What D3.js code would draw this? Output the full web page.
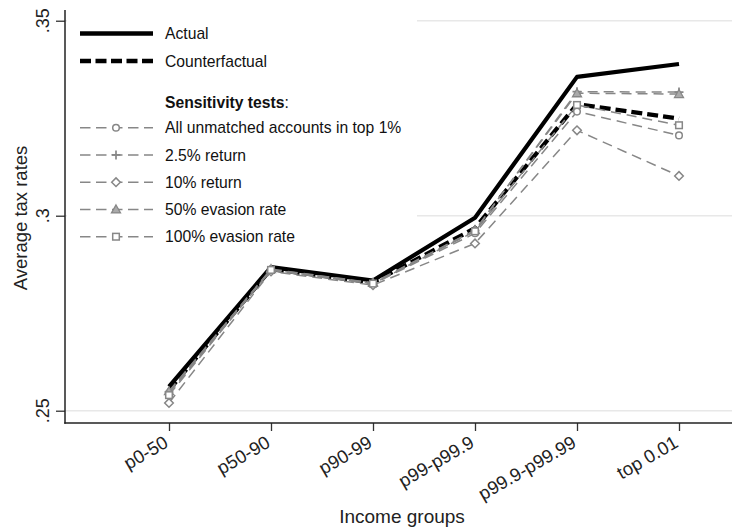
<!DOCTYPE html>
<html><head><meta charset="utf-8">
<script src="https://cdn.jsdelivr.net/npm/d3@7"></script>
<style>body{margin:0;background:#fff}svg{display:block;font-family:"Liberation Sans",Arial,sans-serif}</style>
</head><body><svg id="c" width="732" height="530"></svg>
<script>
const categories = ["p0-50","p50-90","p90-99","p99-p99.9","p99.9-p99.99","top 0.01"];
const yTicks = [0.25, 0.30, 0.35];
const yTickLabels = [".25", ".3", ".35"];
const actual         = [0.2562, 0.2868, 0.2834, 0.2995, 0.3356, 0.3389];
const counterfactual = [0.2553, 0.2863, 0.2829, 0.2968, 0.3286, 0.3249];
const allUnmatched   = [0.2545, 0.2860, 0.2825, 0.2955, 0.3267, 0.3206];
const return25       = [0.2548, 0.2862, 0.2827, 0.2962, 0.3318, 0.3317];
const return10       = [0.2520, 0.2857, 0.2822, 0.2929, 0.3219, 0.3102];
const evasion50      = [0.2550, 0.2863, 0.2828, 0.2963, 0.3314, 0.3312];
const evasion100     = [0.2540, 0.2861, 0.2826, 0.2960, 0.3284, 0.3232];
const sensNames = ["All unmatched accounts in top 1%","2.5% return","10% return","50% evasion rate","100% evasion rate"];
const sensMarkers = ["circle","plus","diamond","triangle","square"];

const svg = d3.select("#c");
const x = d3.scalePoint().domain(categories).range([169, 679]);
const y = d3.scaleLinear().domain([0.24685, 0.35275]).range([423, 10]);
const axisX0 = 65, axisY0 = 423, right = 732;
const gray = "#878787";

// gridlines
svg.append("g").selectAll("line").data(yTicks).join("line")
  .attr("x1", axisX0).attr("x2", right)
  .attr("y1", d => y(d)).attr("y2", d => y(d))
  .attr("stroke", "#e8e8e8").attr("stroke-width", 1.5);

// y axis
const ya = svg.append("g").attr("transform", `translate(${axisX0},0)`)
  .call(d3.axisLeft(y).tickValues(yTicks).tickSize(9).tickFormat(""));
ya.select(".domain").remove();
ya.selectAll(".tick line").attr("stroke", "#333").attr("stroke-width", 1.3);
svg.append("line").attr("x1", axisX0).attr("x2", axisX0).attr("y1", y.range()[1]).attr("y2", axisY0 + 0.7)
  .attr("stroke", "#222").attr("stroke-width", 1.5);
svg.append("g").selectAll("text").data(yTicks).join("text")
  .attr("transform", (d) => `translate(48.5,${y(d)}) rotate(-90)`)
  .attr("text-anchor", "middle").attr("font-size", 18).attr("fill", "#222")
  .text((d, i) => yTickLabels[i]);
svg.append("text").attr("transform", "translate(27,218) rotate(-90)")
  .attr("text-anchor", "middle").attr("font-size", 18.5).attr("fill", "#222").text("Average tax rates");

// x axis
const xa = svg.append("g").attr("transform", `translate(0,${axisY0})`)
  .call(d3.axisBottom(x).tickSize(8).tickFormat(""));
xa.select(".domain").remove();
xa.selectAll(".tick line").attr("stroke", "#333").attr("stroke-width", 1.3);
svg.append("line").attr("x1", axisX0 - 0.7).attr("x2", right).attr("y1", axisY0).attr("y2", axisY0)
  .attr("stroke", "#222").attr("stroke-width", 1.5);
svg.append("g").selectAll("text").data(categories).join("text")
  .attr("transform", d => `translate(${x(d) - 6},${axisY0 + 12}) rotate(-30)`)
  .attr("text-anchor", "end").attr("dy", "0.7em").attr("font-size", 18.5).attr("fill", "#222")
  .text(d => d);
svg.append("text").attr("x", 402).attr("y", 523).attr("text-anchor", "middle")
  .attr("font-size", 19).attr("fill", "#222").text("Income groups");

// legend background (covers gridlines)
svg.append("rect").attr("x", 67).attr("y", 11).attr("width", 350).attr("height", 240).attr("fill", "#fff");

const line = d3.line().x((d, i) => x(categories[i])).y(d => y(d));

function marker(g, type, cx, cy) {
  const s = 3.3;
  if (type === "circle") g.append("circle").attr("cx", cx).attr("cy", cy).attr("r", s).attr("fill", "#fff").attr("stroke", gray).attr("stroke-width", 1.5);
  else if (type === "square") g.append("rect").attr("x", cx - s).attr("y", cy - s).attr("width", 2 * s).attr("height", 2 * s).attr("fill", "#fff").attr("stroke", gray).attr("stroke-width", 1.5);
  else if (type === "diamond") g.append("path").attr("d", `M${cx},${cy - 4.3}L${cx + 4.3},${cy}L${cx},${cy + 4.3}L${cx - 4.3},${cy}Z`).attr("fill", "#fff").attr("stroke", gray).attr("stroke-width", 1.5);
  else if (type === "triangle") g.append("path").attr("d", `M${cx},${cy - 4.5}L${cx + 4.5},${cy + 3.5}L${cx - 4.5},${cy + 3.5}Z`).attr("fill", "#aaa").attr("stroke", gray).attr("stroke-width", 1.3);
  else if (type === "plus") g.append("path").attr("d", `M${cx - 4.5},${cy}H${cx + 4.5}M${cx},${cy - 4.5}V${cy + 4.5}`).attr("stroke", gray).attr("stroke-width", 1.7).attr("fill", "none");
}

// series
svg.append("path").datum(actual).attr("d", line).attr("fill", "none").attr("stroke", "#000").attr("stroke-width", 4.2).attr("stroke-linejoin", "round");
svg.append("path").datum(counterfactual).attr("d", line).attr("fill", "none").attr("stroke", "#000").attr("stroke-width", 4.2).attr("stroke-dasharray", "11,5");
const sensData = [allUnmatched, return25, return10, evasion50, evasion100];
sensData.forEach((arr, k) => {
  const g = svg.append("g");
  g.append("path").datum(arr).attr("d", line).attr("fill", "none").attr("stroke", gray).attr("stroke-width", 1.5).attr("stroke-dasharray", "10,6");
  arr.forEach((v, i) => marker(g, sensMarkers[k], x(categories[i]), y(v)));
});

// legend
const lg = svg.append("g");
const lx1 = 80, lx2 = 153, tx = 165, fs = 15.7;
lg.append("line").attr("x1", lx1).attr("x2", lx2).attr("y1", 33.5).attr("y2", 33.5).attr("stroke", "#000").attr("stroke-width", 4.5);
lg.append("text").attr("x", tx).attr("y", 33.5).attr("dy", "0.36em").attr("font-size", fs).attr("fill", "#111").text("Actual");
lg.append("line").attr("x1", lx1).attr("x2", lx2).attr("y1", 61).attr("y2", 61).attr("stroke", "#000").attr("stroke-width", 4.5).attr("stroke-dasharray", "11,4.5");
lg.append("text").attr("x", tx).attr("y", 61).attr("dy", "0.36em").attr("font-size", fs).attr("fill", "#111").text("Counterfactual");
const st = lg.append("text").attr("x", tx).attr("y", 102.7).attr("dy", "0.36em").attr("font-size", fs).attr("fill", "#111");
st.append("tspan").attr("font-weight", "bold").text("Sensitivity tests");
st.append("tspan").text(":");
sensNames.forEach((name, k) => {
  const yy = 127.7 + k * 27.25;
  lg.append("line").attr("x1", lx1).attr("x2", lx2).attr("y1", yy).attr("y2", yy).attr("stroke", gray).attr("stroke-width", 1.5).attr("stroke-dasharray", "10.5,5.5");
  marker(lg, sensMarkers[k], 116, yy);
  lg.append("text").attr("x", tx).attr("y", yy).attr("dy", "0.36em").attr("font-size", fs).attr("fill", "#111").text(name);
});
</script></body></html>
